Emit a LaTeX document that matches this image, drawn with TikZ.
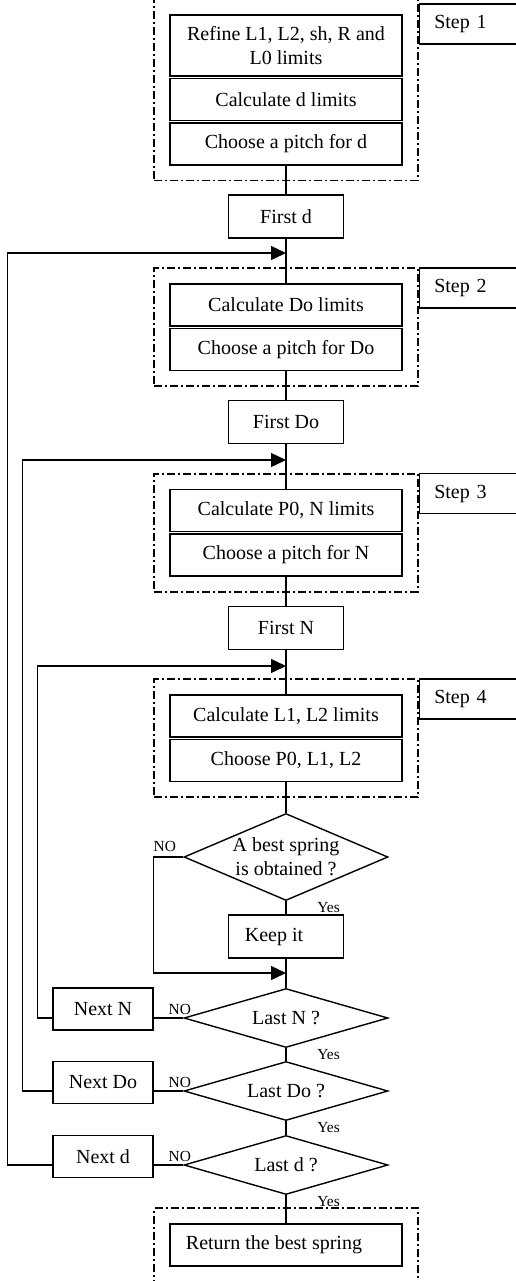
\documentclass[tikz,border=0pt]{standalone}
\usepackage{fontspec}
\setmainfont{Liberation Serif}
\usepackage{tikz}
\usetikzlibrary{calc, positioning, arrows.meta, shapes.geometric, fit}
\tikzset{
    process/.style={rectangle, draw=black, line width=0.7pt, fill=white, align=center, minimum width=116pt, minimum height=21pt, inner sep=0pt, font=\fontsize{10}{12}\selectfont},
    start/.style={process, minimum width=57.5pt, minimum height=21.5pt},
    nextbox/.style={process, minimum width=50pt, minimum height=21pt},
    decision/.style={diamond, draw=black, line width=0.7pt, fill=white, align=center, aspect=3.46, minimum width=102pt, minimum height=29.5pt, inner sep=0pt, font=\fontsize{10}{12}\selectfont},
    group/.style={rectangle, draw=black, line width=0.9pt, dash pattern=on 4pt off 1.5pt on 1pt off 1.5pt, inner sep=7.5pt},
    stepbox/.style={rectangle, draw=black, line width=0.7pt, anchor=north west, minimum height=20pt, text width=60pt, inner xsep=7.5pt, align=left, font=\fontsize{10}{12}\selectfont},
    arrow/.style={-{Triangle[length=7.5pt, width=7pt]}, line width=0.7pt},
    line/.style={line width=0.7pt},
    answer/.style={font=\fontsize{7.7}{9}\selectfont, inner sep=0.5pt}
}

\begin{document}
\begin{tikzpicture}[x=0.5pt, y=-0.5pt]
    \useasboundingbox (0,0) rectangle (515,1281);

    % --- STEP 1 ---
    \node[process, minimum height=30.5pt] (R1) at (286,45.5) {Refine L1, L2, sh, R and\\L0 limits};
    \node[process, below=0.5pt of R1] (C1) {Calculate d limits};
    \node[process, below=0.5pt of C1] (P1) {Choose a pitch for d};
    \node[group, fit=(R1)(P1)] (G1) {};
    \node[stepbox] (S1) at ($(G1.north east)+(0,5)$) {Step 1};

    \node[start] (Fd) at (286,216.5) {First d};
    \coordinate (J1) at (286,253);

    % --- STEP 2 ---
    \node[process] (C2) at (286,305) {Calculate Do limits};
    \node[process, below=0.5pt of C2] (P2) {Choose a pitch for Do};
    \node[group, fit=(C2)(P2)] (G2) {};
    \node[stepbox] (S2) at (G2.north east) {Step 2};

    \node[start] (FDo) at (286,422) {First Do};
    \coordinate (J2) at (286,460);

    % --- STEP 3 ---
    \node[process] (C3) at (286,510.5) {Calculate P0, N limits};
    \node[process, below=0.5pt of C3] (P3) {Choose a pitch for N};
    \node[group, fit=(C3)(P3)] (G3) {};
    \node[stepbox] (S3) at (G3.north east) {Step 3};

    \node[start] (FN) at (286,628) {First N};
    \coordinate (J3) at (286,666);

    % --- STEP 4 ---
    \node[process] (C4) at (286,716) {Calculate L1, L2 limits};
    \node[process, below=0.5pt of C4] (P4) {Choose P0, L1, L2};
    \node[group, fit=(C4)(P4)] (G4) {};
    \node[stepbox] (S4) at (G4.north east) {Step 4};

    % --- TESTS ---
    \node[decision, aspect=2.34, minimum height=43.5pt] (D1) at (286,857) {A best spring\\is obtained ?};
    \node[start] (Keep) at (286,936.5) {Keep it\hspace*{12pt}};
    \coordinate (J4) at (286,973);

    \node[decision] (LN) at (286,1018) {Last N ?};
    \node[decision] (LDo) at (286,1091) {Last Do ?};
    \node[decision] (Ld) at (286,1165) {Last d ?};

    \node[nextbox] (NN) at (103,1009) {Next N};
    \node[nextbox] (NDo) at (103,1082.5) {Next Do};
    \node[nextbox] (Nd) at (103,1156.5) {Next d};

    \node[process] (Ret) at (286,1245) {Return the best spring\hspace*{12pt}};
    \node[group, fit=(Ret)] (G5) {};

    % Main line
    \draw[line] (P1) -- (Fd);
    \draw[line] (Fd) -- (C2);
    \draw[line] (P2) -- (FDo);
    \draw[line] (FDo) -- (C3);
    \draw[line] (P3) -- (FN);
    \draw[line] (FN) -- (C4);
    \draw[line] (P4) -- (D1);
    \draw[line] (D1) -- (Keep);
    \draw[line] (Keep) -- (LN);
    \draw[line] (LN) -- (LDo);
    \draw[line] (LDo) -- (Ld);
    \draw[line] (Ld) -- (Ret);

    % Loops back
    \draw[arrow] (D1.west) -- ++(-30,0) |- (J4);
    \draw[line] (LN.west) -- (LN.west -| NN.east);
    \draw[arrow] (LN.west -| NN.west) -- ++(-15,0) |- (J3);
    \draw[line] (LDo.west) -- (LDo.west -| NDo.east);
    \draw[arrow] (LDo.west -| NDo.west) -- ++(-30,0) |- (J2);
    \draw[line] (Ld.west) -- (Ld.west -| Nd.east);
    \draw[arrow] (Ld.west -| Nd.west) -- ++(-45,0) |- (J1);

    % Answers
    \node[answer, anchor=south east] (no1) at ($(D1.west)+(-6,-4)$) {NO};
    \node[answer, anchor=south] (no2) at ($(LN.west)+(-3.5,-2)$) {NO};
    \node[answer, anchor=south] (no3) at ($(LDo.west)+(-3.5,-2)$) {NO};
    \node[answer, anchor=south] (no4) at ($(Ld.west)+(-3.5,-2)$) {NO};
    \node[answer, anchor=north west] (yes1) at ($(D1.south)+(30,0)$) {Yes};
    \node[answer, anchor=north west] (yes2) at ($(LN.south)+(30,0)$) {Yes};
    \node[answer, anchor=north west] (yes3) at ($(LDo.south)+(30,0)$) {Yes};
    \node[answer, anchor=north west] (yes4) at ($(Ld.south)+(30,0)$) {Yes};
\end{tikzpicture}
\end{document}
